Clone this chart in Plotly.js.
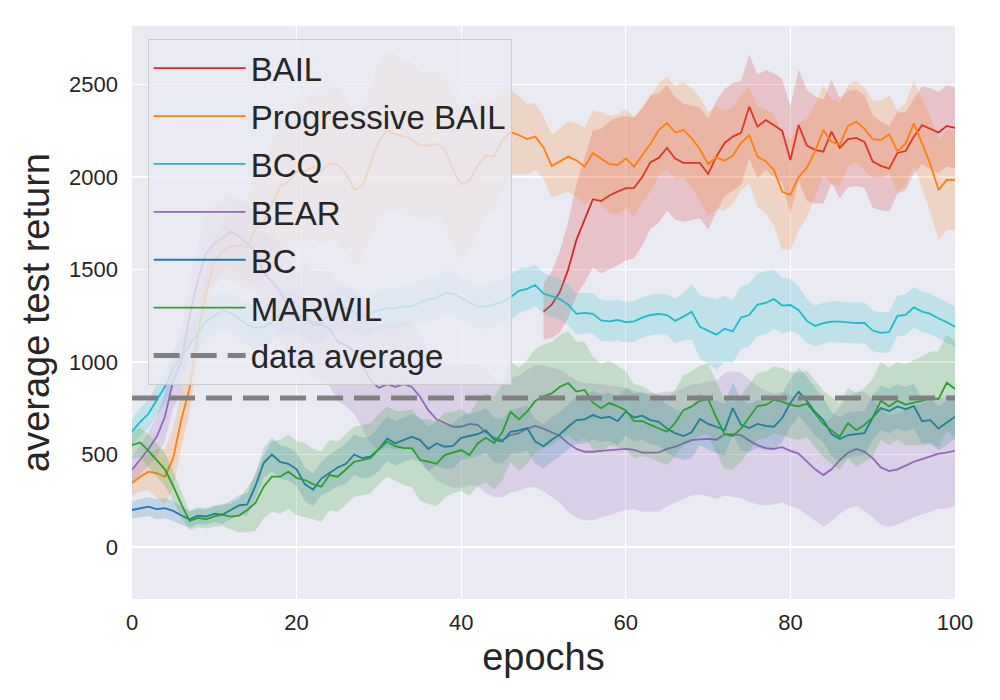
<!DOCTYPE html>
<html>
<head>
<meta charset="utf-8">
<script src="https://cdn.plot.ly/plotly-3.0.1.min.js"></script>
<style>
  body { margin: 0; background: #fff; }
  #plot { width: 1000px; height: 700px; }
</style>
</head>
<body>
<div id="plot"></div>
<script>
// epochs 0..100 for most methods, BAIL only runs from epoch 50
const epochs = Array.from({ length: 101 }, (_, i) => i);
const bailEpochs = epochs.slice(50);

const bail = [1272, 1310, 1380, 1500, 1660, 1770, 1880, 1870, 1900, 1921,
  1940, 1941, 2000, 2080, 2103, 2157, 2100, 2076, 2077, 2076,
  2016, 2110, 2184, 2218, 2238, 2380, 2272, 2308, 2280, 2250,
  2092, 2281, 2170, 2146, 2137, 2245, 2157, 2205, 2211, 2190,
  2083, 2060, 2045, 2130, 2140, 2218, 2280, 2260, 2240, 2276, 2265];
const bailSpread = [150, 180, 220, 260, 300, 340, 370, 390, 400, 400,
  390, 380, 370, 360, 350, 340, 330, 320, 310, 300,
  300, 300, 290, 290, 280, 280, 280, 270, 280, 280,
  290, 300, 300, 290, 280, 280, 270, 260, 260, 250,
  250, 240, 230, 220, 210, 200, 210, 220, 220, 220, 220];

const progBail = [346, 380, 407, 400, 380, 480, 690, 860, 1150, 1373,
  1545, 1600, 1623, 1630, 1620, 1720, 1760, 1850, 1950, 1972,
  2030, 2030, 2056, 2030, 2076, 2065, 2020, 1930, 1950, 2080,
  2200, 2250, 2230, 2220, 2205, 2170, 2168, 2180, 2150, 2040,
  1960, 1980, 2060, 2115, 2110, 2200, 2242, 2227, 2205, 2218,
  2160, 2060, 2083, 2110, 2090, 2056, 2130, 2100, 2070, 2065,
  2100, 2056, 2119, 2180, 2254, 2292, 2240, 2254, 2210, 2150,
  2070, 2105, 2088, 2115, 2184, 2227, 2110, 2085, 2038, 1920,
  1903, 2000, 2050, 2140, 2254, 2190, 2175, 2276, 2300, 2260,
  2205, 2200, 2230, 2140, 2180, 2290, 2180, 2070, 1930, 1984, 1984];
const progBailSpread = [70, 80, 100, 130, 150, 160, 150, 130, 120, 120,
  130, 150, 180, 220, 260, 290, 310, 330, 350, 360,
  370, 380, 390, 400, 410, 420, 420, 410, 400, 400,
  420, 430, 430, 420, 410, 400, 390, 390, 400, 410,
  400, 380, 350, 320, 290, 260, 230, 210, 190, 180,
  170, 170, 180, 190, 200, 210, 230, 250, 260, 270,
  270, 270, 260, 260, 250, 250, 250, 260, 270, 280,
  280, 280, 270, 260, 260, 260, 270, 280, 300, 310,
  300, 290, 270, 250, 240, 230, 230, 220, 220, 220,
  210, 210, 210, 220, 220, 230, 240, 260, 270, 270, 270];

const bcq = [623, 677, 720, 790, 866, 967, 1030, 1090, 1160, 1220,
  1250, 1280, 1265, 1235, 1200, 1184, 1191, 1215, 1260, 1272,
  1265, 1230, 1215, 1211, 1260, 1280, 1292, 1270, 1245, 1265,
  1281, 1290, 1290, 1300, 1299, 1320, 1340, 1345, 1375, 1370,
  1345, 1320, 1299, 1299, 1310, 1325, 1350, 1385, 1395, 1416,
  1370, 1355, 1340, 1310, 1260, 1265, 1260, 1225, 1220, 1227,
  1215, 1220, 1240, 1254, 1260, 1254, 1222, 1245, 1272, 1190,
  1170, 1148, 1180, 1165, 1240, 1254, 1310, 1319, 1340, 1305,
  1308, 1280, 1222, 1195, 1210, 1218, 1218, 1212, 1210, 1211,
  1170, 1157, 1162, 1250, 1254, 1295, 1272, 1260, 1235, 1215, 1191];
const bcqSpread = [70, 75, 80, 85, 90, 95, 100, 100, 100, 105,
  105, 110, 110, 110, 110, 110, 110, 110, 110, 110,
  110, 110, 110, 110, 110, 110, 110, 110, 110, 110,
  110, 110, 110, 110, 110, 115, 120, 120, 120, 120,
  120, 120, 120, 120, 120, 120, 120, 120, 115, 110,
  110, 110, 110, 110, 110, 110, 110, 110, 110, 110,
  110, 110, 110, 110, 110, 110, 120, 130, 150, 170,
  180, 190, 180, 170, 170, 170, 170, 170, 160, 150,
  140, 130, 120, 110, 110, 110, 110, 110, 110, 110,
  110, 110, 110, 110, 110, 110, 110, 110, 110, 110, 110];

const bear = [416, 470, 530, 596, 704, 900, 1000, 1250, 1440, 1589,
  1640, 1670, 1705, 1680, 1640, 1600, 1481, 1435, 1380, 1290,
  1227, 1260, 1200, 1200, 1180, 1110, 1090, 1060, 980, 900,
  860, 880, 866, 880, 865, 812, 740, 690, 670, 650,
  650, 665, 660, 620, 590, 578, 605, 615, 640, 654,
  640, 620, 600, 560, 530, 515, 515, 520, 524, 527,
  530, 525, 510, 510, 512, 530, 542, 560, 578, 582,
  584, 580, 610, 610, 605, 575, 550, 535, 530, 540,
  520, 505, 460, 420, 389, 420, 470, 510, 530, 515,
  480, 430, 410, 420, 440, 461, 475, 490, 505, 510, 521];
const bearSpread = [70, 80, 90, 110, 130, 150, 170, 190, 200, 200,
  200, 200, 200, 200, 210, 220, 230, 240, 250, 260,
  270, 280, 290, 300, 310, 320, 330, 340, 340, 340,
  340, 340, 340, 340, 340, 340, 330, 330, 330, 330,
  330, 330, 330, 330, 320, 310, 310, 310, 320, 330,
  340, 350, 360, 370, 370, 370, 370, 360, 350, 340,
  330, 320, 320, 320, 320, 310, 300, 300, 300, 300,
  310, 320, 330, 340, 340, 330, 320, 310, 300, 300,
  300, 300, 290, 280, 280, 280, 290, 300, 310, 320,
  320, 310, 300, 300, 300, 300, 300, 300, 300, 300, 300];

const bc = [200, 210, 218, 205, 210, 195, 170, 150, 170, 165,
  180, 175, 200, 225, 230, 330, 454, 500, 460, 450,
  420, 340, 310, 370, 400, 430, 450, 500, 480, 490,
  530, 585, 560, 580, 596, 578, 530, 560, 542, 546,
  590, 600, 610, 630, 580, 570, 623, 630, 643, 570,
  545, 580, 610, 650, 686, 690, 713, 697, 704, 680,
  731, 700, 710, 686, 677, 640, 615, 600, 620, 692,
  665, 650, 632, 751, 660, 643, 665, 655, 650, 697,
  778, 840, 790, 730, 686, 610, 584, 605, 610, 616,
  700, 751, 735, 760, 745, 762, 680, 686, 640, 670, 704];
const bcSpread = [45, 50, 50, 55, 55, 55, 50, 45, 45, 45,
  45, 50, 50, 55, 60, 70, 80, 90, 90, 90,
  90, 90, 90, 90, 100, 100, 110, 110, 110, 110,
  120, 120, 120, 120, 120, 120, 120, 120, 120, 120,
  120, 120, 120, 120, 120, 120, 120, 120, 120, 120,
  120, 120, 120, 120, 130, 130, 130, 130, 130, 130,
  130, 130, 130, 130, 130, 130, 130, 130, 140, 140,
  140, 140, 140, 140, 140, 130, 130, 130, 130, 130,
  130, 130, 130, 130, 120, 120, 120, 120, 120, 120,
  120, 120, 120, 120, 120, 120, 120, 120, 120, 120, 120];

const marwil = [551, 565, 520, 470, 420, 330, 230, 141, 157, 150,
  165, 175, 164, 170, 200, 238, 326, 380, 380, 407,
  373, 362, 340, 326, 389, 380, 420, 461, 470, 481,
  530, 569, 545, 535, 535, 470, 462, 450, 497, 510,
  524, 497, 560, 590, 562, 620, 731, 690, 731, 790,
  815, 830, 866, 886, 840, 849, 780, 750, 778, 760,
  740, 680, 680, 660, 640, 623, 670, 740, 760, 790,
  800, 700, 610, 600, 640, 700, 762, 768, 795, 786,
  768, 760, 775, 720, 665, 630, 596, 670, 632, 660,
  700, 790, 760, 790, 770, 780, 790, 805, 800, 888, 854];
const marwilSpread = [70, 80, 90, 90, 90, 80, 70, 50, 50, 50,
  55, 60, 70, 90, 120, 150, 170, 190, 200, 200,
  200, 200, 190, 190, 190, 190, 190, 190, 190, 190,
  190, 190, 190, 200, 210, 220, 230, 230, 230, 220,
  220, 220, 230, 240, 250, 260, 270, 280, 280, 280,
  280, 280, 280, 280, 270, 260, 250, 240, 230, 220,
  210, 200, 190, 180, 180, 180, 180, 190, 190, 190,
  190, 190, 190, 180, 180, 180, 180, 180, 180, 180,
  180, 180, 180, 180, 180, 180, 180, 190, 200, 200,
  210, 210, 210, 210, 220, 230, 240, 250, 260, 260, 260];

const dataAverage = 805;

const series = [
  { name: "BAIL", x: bailEpochs, y: bail, spread: bailSpread, color: "#d62728", fill: "rgba(214,39,40,0.2)" },
  { name: "Progressive BAIL", x: epochs, y: progBail, spread: progBailSpread, color: "#ff7f0e", fill: "rgba(255,127,14,0.2)" },
  { name: "BCQ", x: epochs, y: bcq, spread: bcqSpread, color: "#17becf", fill: "rgba(23,190,207,0.2)" },
  { name: "BEAR", x: epochs, y: bear, spread: bearSpread, color: "#9467bd", fill: "rgba(148,103,189,0.2)" },
  { name: "BC", x: epochs, y: bc, spread: bcSpread, color: "#1f77b4", fill: "rgba(31,119,180,0.2)" },
  { name: "MARWIL", x: epochs, y: marwil, spread: marwilSpread, color: "#2ca02c", fill: "rgba(44,160,44,0.2)" },
];

const traces = [];
series.forEach((s) => {
  const upper = s.y.map((v, i) => v + s.spread[i]);
  const lower = s.y.map((v, i) => v - s.spread[i]);
  // shaded band, closed polygon: upper edge then lower edge backwards
  traces.push({
    x: [...s.x, ...s.x.slice().reverse()],
    y: [...upper, ...lower.slice().reverse()],
    type: "scatter",
    mode: "lines",
    fill: "toself",
    fillcolor: s.fill,
    line: { width: 0 },
    hoverinfo: "skip",
    showlegend: false,
    legendgroup: s.name,
  });
  traces.push({
    x: s.x,
    y: s.y,
    type: "scatter",
    mode: "lines",
    name: s.name,
    legendgroup: s.name,
    line: { color: s.color, width: 1.8 },
  });
});

traces.push({
  x: [0, 100],
  y: [dataAverage, dataAverage],
  type: "scatter",
  mode: "lines",
  name: "data average",
  legendgroup: "avg",
  line: { color: "#808080", width: 5, dash: "26px,11px" },
});

const textColor = "#262626";

const layout = {
  width: 1000,
  height: 700,
  margin: { l: 132, r: 45, t: 26, b: 101 },
  paper_bgcolor: "#ffffff",
  plot_bgcolor: "#eaeaf2",
  font: { family: "Liberation Sans, Arial, sans-serif", color: textColor },
  showlegend: true,
  xaxis: {
    range: [0, 100],
    tickvals: [0, 20, 40, 60, 80, 100],
    gridcolor: "#ffffff",
    gridwidth: 1.3,
    zeroline: false,
    showline: false,
    ticks: "",
    ticklabelstandoff: 8,
    tickfont: { size: 22, color: textColor },
    title: { text: "epochs", font: { size: 38, color: textColor }, standoff: 9 },
  },
  yaxis: {
    range: [-281, 2816],
    tickvals: [0, 500, 1000, 1500, 2000, 2500],
    gridcolor: "#ffffff",
    gridwidth: 1.3,
    zeroline: false,
    showline: false,
    ticks: "",
    ticklabelstandoff: 13,
    tickfont: { size: 22, color: textColor },
    title: { text: "average test return", font: { size: 38, color: textColor }, standoff: 7 },
  },
  legend: {
    x: 0.019,
    y: 0.977,
    xanchor: "left",
    yanchor: "top",
    bgcolor: "rgba(234,234,242,0.8)",
    bordercolor: "#cccccc",
    borderwidth: 1,
    font: { size: 33, color: textColor },
    itemwidth: 92,
    tracegroupgap: 2,
  },
};

Plotly.newPlot(document.getElementById("plot"), traces, layout, {
  displayModeBar: false,
  staticPlot: true,
});
</script>
</body>
</html>
